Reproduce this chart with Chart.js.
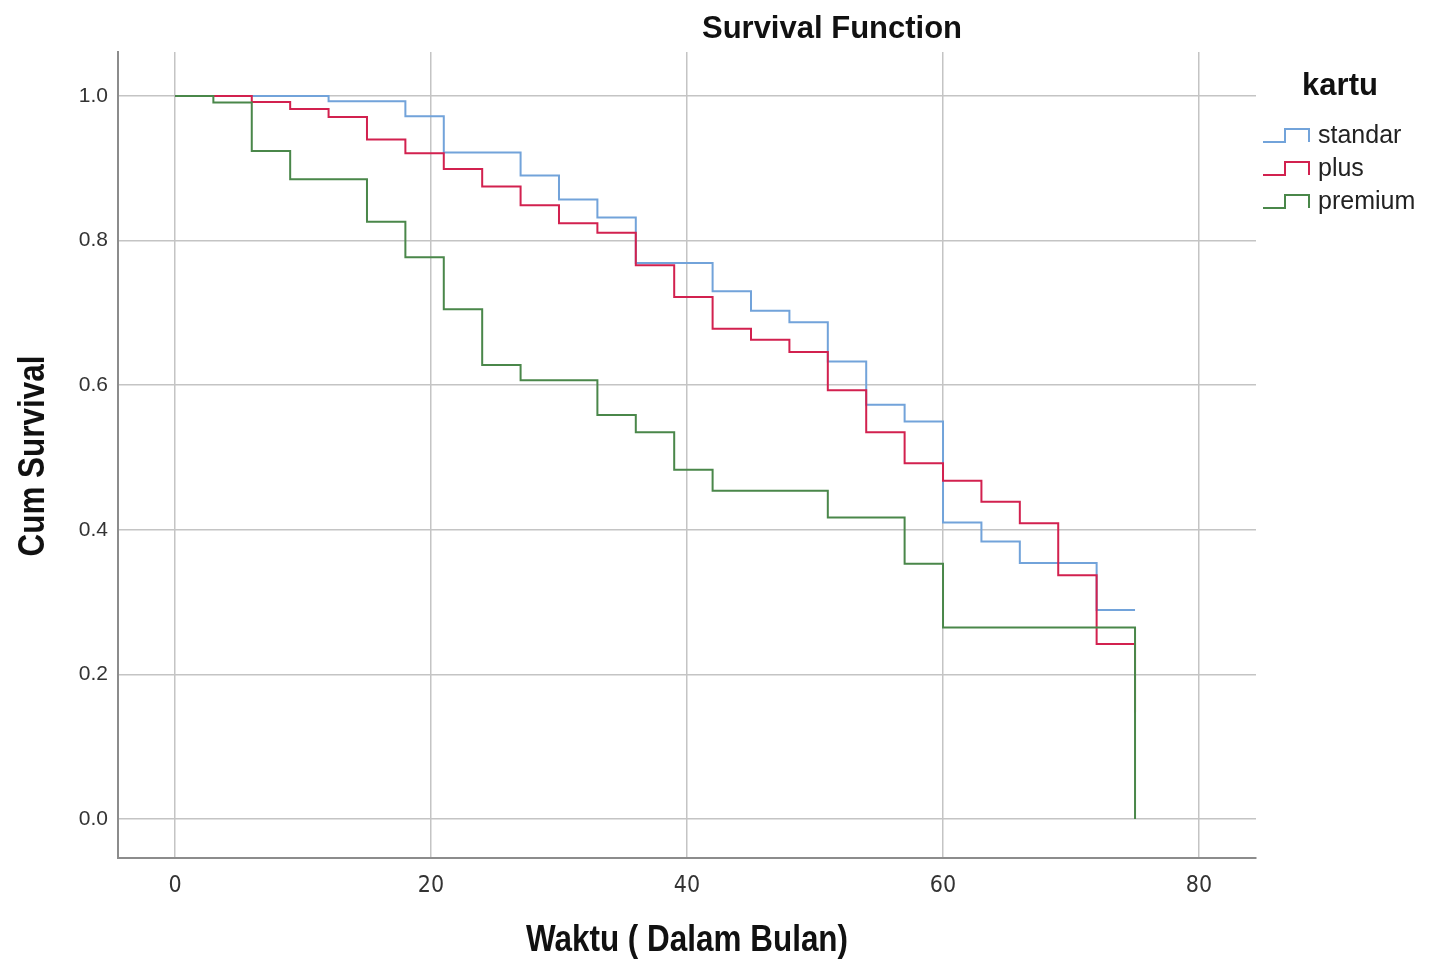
<!DOCTYPE html>
<html>
<head>
<meta charset="utf-8">
<title>Survival Function</title>
<script src="https://cdn.jsdelivr.net/npm/chart.js@4.4.1/dist/chart.umd.min.js"></script>
<style>
  html, body { margin: 0; padding: 0; background: #fff; }
  #wrap { width: 1434px; height: 967px; }
</style>
</head>
<body>
<div id="wrap"><canvas id="survivalChart" width="1434" height="967"></canvas></div>
<script>
// survival steps (time in months, cum survival)
const standarTimes = [0, 12, 18, 21, 27, 30, 33, 36, 42, 45, 48, 51, 54, 57, 60, 63, 66, 72, 75];
const standarValues = [1.0, 0.993, 0.972, 0.922, 0.890, 0.857, 0.832, 0.769, 0.730, 0.703, 0.687, 0.633, 0.573, 0.550, 0.410, 0.384, 0.354, 0.289, 0.289];

const plusTimes = [0, 6, 9, 12, 15, 18, 21, 24, 27, 30, 33, 36, 39, 42, 45, 48, 51, 54, 57, 60, 63, 66, 69, 72, 75];
const plusValues = [1.0, 0.992, 0.982, 0.971, 0.940, 0.921, 0.899, 0.875, 0.849, 0.824, 0.811, 0.766, 0.722, 0.678, 0.663, 0.646, 0.593, 0.535, 0.492, 0.468, 0.439, 0.409, 0.337, 0.242, 0.147];

const premiumTimes = [0, 3, 6, 9, 15, 18, 21, 24, 27, 33, 36, 39, 42, 51, 57, 60, 75];
const premiumValues = [1.0, 0.991, 0.924, 0.885, 0.826, 0.777, 0.705, 0.628, 0.607, 0.559, 0.535, 0.483, 0.454, 0.417, 0.353, 0.265, 0.0];

const groupLabels = ['standar', 'plus', 'premium'];
const xTicks = [0, 20, 40, 60, 80];
const yTicks = [0.0, 0.2, 0.4, 0.6, 0.8, 1.0];

const colors = ['#72a3da', '#d2214f', '#4a874a'];
const condensed = "'DejaVu Sans Condensed', 'Liberation Sans', sans-serif";
const sans = "'Liberation Sans', Arial, sans-serif";

function toPoints(times, values) {
    return times.map((t, i) => ({ x: t, y: values[i] }));
}

function makeDataset(label, times, values, color, order) {
    return {
        label: label,
        data: toPoints(times, values),
        borderColor: color,
        backgroundColor: color,
        borderWidth: 2,
        stepped: 'before',
        pointRadius: 0,
        fill: false,
        order: order
    };
}

// step icon used in the legend
function drawStepIcon(ctx, x, y, color) {
    ctx.save();
    ctx.strokeStyle = color;
    ctx.lineWidth = 2;
    ctx.beginPath();
    ctx.moveTo(x, y + 6);
    ctx.lineTo(x + 22, y + 6);
    ctx.lineTo(x + 22, y - 7);
    ctx.lineTo(x + 46, y - 7);
    ctx.lineTo(x + 46, y + 6);
    ctx.stroke();
    ctx.restore();
}

// axis titles in the picture are a narrow bold face: squeeze Liberation Sans Bold
function narrowText(ctx, text, x, y, angle) {
    ctx.save();
    ctx.translate(x, y);
    ctx.rotate(angle);
    ctx.scale(0.85, 1);
    ctx.fillText(text, 0, 0);
    ctx.restore();
}

const textPlugin = {
    id: 'spssText',
    afterDraw(chart) {
        const ctx = chart.ctx;
        const area = chart.chartArea;
        ctx.save();
        ctx.fillStyle = '#111';
        ctx.textAlign = 'center';
        ctx.textBaseline = 'middle';

        ctx.font = 'bold 31px ' + sans;
        ctx.fillText('Survival Function', 832, 29);

        ctx.font = 'bold 37px ' + sans;
        narrowText(ctx, 'Waktu ( Dalam Bulan)', (area.left + area.right) / 2, 941, 0);
        narrowText(ctx, 'Cum Survival', 34, (area.top + area.bottom) / 2 + 1, -Math.PI / 2);

        // legend
        ctx.font = 'bold 31px ' + sans;
        ctx.fillText('kartu', 1340, 86);

        const rowY = [136, 169, 202];
        ctx.font = '25px ' + sans;
        ctx.textAlign = 'left';
        ctx.fillStyle = '#222';
        chart.data.datasets.forEach((ds, i) => {
            drawStepIcon(ctx, 1263, rowY[i], ds.borderColor);
            ctx.fillText(ds.label, 1318, rowY[i]);
        });
        ctx.restore();
    }
};

new Chart(document.getElementById('survivalChart').getContext('2d'), {
    type: 'line',
    data: {
        datasets: [
            makeDataset(groupLabels[0], standarTimes, standarValues, colors[0], 3),
            makeDataset(groupLabels[1], plusTimes, plusValues, colors[1], 2),
            makeDataset(groupLabels[2], premiumTimes, premiumValues, colors[2], 1)
        ]
    },
    options: {
        responsive: false,
        animation: false,
        layout: {
            padding: { left: 0, right: 178, top: 52, bottom: 0 }
        },
        plugins: {
            legend: { display: false },
            title: { display: false },
            tooltip: { enabled: false }
        },
        scales: {
            x: {
                type: 'linear',
                min: -4.45,
                max: 84.45,
                afterBuildTicks: scale => { scale.ticks = xTicks.map(v => ({ value: v })); },
                afterFit: scale => { scale.height = 109; },
                grid: { color: '#c4c4c4', lineWidth: 1.5, drawTicks: false },
                border: { color: '#8c8c8c', width: 2 },
                ticks: {
                    padding: 14,
                    color: '#333',
                    font: { family: condensed, size: 23 },
                    callback: v => String(v)
                }
            },
            y: {
                type: 'linear',
                min: -0.054,
                max: 1.061,
                afterBuildTicks: scale => { scale.ticks = yTicks.map(v => ({ value: v })); },
                afterFit: scale => { scale.width = 118; },
                grid: { color: '#c4c4c4', lineWidth: 1.5, drawTicks: false },
                border: { color: '#8c8c8c', width: 2 },
                ticks: {
                    padding: 10,
                    color: '#333',
                    font: { family: sans, size: 21 },
                    callback: v => v.toFixed(1)
                }
            }
        }
    },
    plugins: [textPlugin]
});
</script>
</body>
</html>
